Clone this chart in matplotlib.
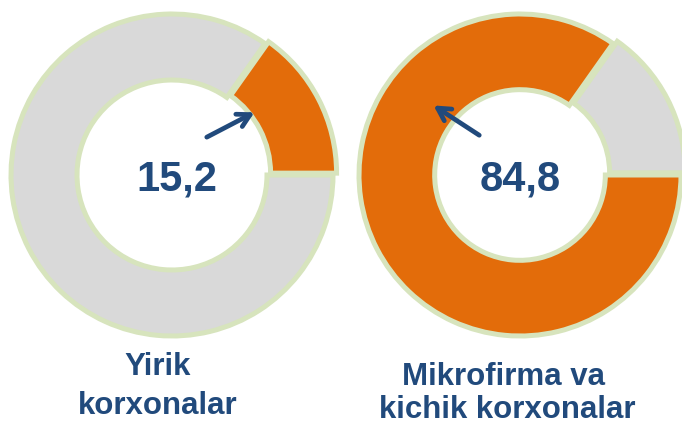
import matplotlib.pyplot as plt

# dati
groups = ['Yirik korxonalar', 'Mikrofirma va kichik korxonalar']
shares = [15.2, 84.8]
label_lines = [['Yirik', 'korxonalar'], ['Mikrofirma va', 'kichik korxonalar']]

orange = '#e36c0a'
grey = '#d9d9d9'
border = '#d7e4bd'
navy = '#214a7c'

W, H = 682, 424
fig = plt.figure(figsize=(W / 100, H / 100), dpi=100)

R = 161  # raggio esterno in pixel
half = 170

def px_axes(cx, cy):
    return fig.add_axes([(cx - half) / W, (H - cy - half) / H, 2 * half / W, 2 * half / H])

arrow_style = dict(arrowstyle='->,head_length=0.9,head_width=0.5', color=navy, lw=3.4,
                   shrinkA=0, shrinkB=0)

# 1. ciambella sinistra: quota grandi imprese in arancione
ax1 = px_axes(172, 175)
ax1.pie([shares[0], 100 - shares[0]], colors=[orange, grey], startangle=0,
        counterclock=True, explode=[0.025, 0], radius=1.0,
        wedgeprops=dict(width=0.41, edgecolor=border, linewidth=3.6))
ax1.set_xlim(-half / R, half / R)
ax1.set_ylim(-half / R, half / R)
ax1.set_aspect('equal')
ax1.axis('off')
ax1.text(0.03, -0.03, f"{shares[0]:.1f}".replace('.', ','), ha='center', va='center',
         fontsize=30, fontweight='bold', color=navy, family='Liberation Sans')
ax1.annotate('', xy=(0.512, 0.389), xytext=(0.216, 0.235), arrowprops=arrow_style)

# 2. ciambella destra: quota piccole imprese in arancione
ax2 = px_axes(520, 175)
ax2.pie([100 - shares[1], shares[1]], colors=[grey, orange], startangle=0,
        counterclock=True, explode=[0.03, 0], radius=1.0,
        wedgeprops=dict(width=0.47, edgecolor=border, linewidth=3.6))
ax2.set_xlim(-half / R, half / R)
ax2.set_ylim(-half / R, half / R)
ax2.set_aspect('equal')
ax2.axis('off')
ax2.text(0.0, -0.03, f"{shares[1]:.1f}".replace('.', ','), ha='center', va='center',
         fontsize=30, fontweight='bold', color=navy, family='Liberation Sans')
ax2.annotate('', xy=(-0.537, 0.432), xytext=(-0.253, 0.247), arrowprops=arrow_style)

# 3. etichette sotto le ciambelle
label_pos = [([158, 158], [375, 414]), ([504, 507], [385, 418])]
for lines, (xs, ys) in zip(label_lines, label_pos):
    for line, x, y in zip(lines, xs, ys):
        fig.text(x / W, 1 - y / H, line, ha='center', va='baseline', fontsize=22.5,
                 fontweight='bold', color=navy, family='Liberation Sans')

plt.savefig('out.png', dpi=100)
plt.close()
